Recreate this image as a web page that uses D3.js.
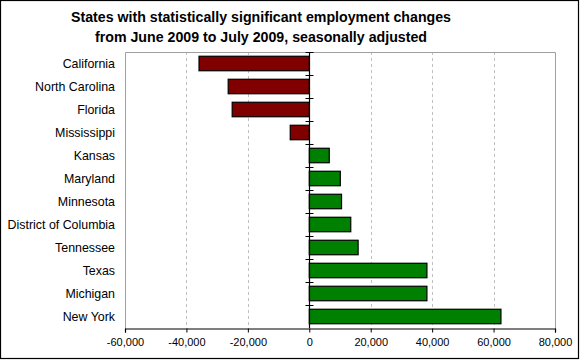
<!DOCTYPE html>
<html><head><meta charset="utf-8">
<script src="https://cdn.jsdelivr.net/npm/d3@7"></script>
<style>body{margin:0;background:#fff}svg{display:block}</style>
</head><body><svg id="c" width="580" height="360"></svg>
<script>
const titleLines = ["States with statistically significant employment changes", "from June 2009 to July 2009, seasonally adjusted"];
const states = ["California","North Carolina","Florida","Mississippi","Kansas","Maryland","Minnesota","District of Columbia","Tennessee","Texas","Michigan","New York"];
const changes = [-35900,-26400,-25100,-6200,6500,10100,10500,13500,15900,38300,38300,62400];
const xTicks = [-60000,-40000,-20000,0,20000,40000,60000,80000];

const svg = d3.select("#c");
const font = "'Liberation Sans', Arial, sans-serif";
const L = 125, R = 555, T = 52, B = 328;

svg.append("rect").attr("x",0.5).attr("y",0.5).attr("width",578).attr("height",358)
  .attr("fill","#fff").attr("stroke","#000").attr("stroke-width",1.2);

const x = d3.scaleLinear().domain([-60000,80000]).range([L,R]);
const y = d3.scaleBand().domain(states).range([T,B]).paddingInner(0.37).paddingOuter(0.185);

// gridlines
svg.append("g").selectAll("line").data(xTicks.filter(v=>v!==-60000 && v!==0 && v!==80000)).join("line")
  .attr("x1",d=>Math.round(x(d))+0.5).attr("x2",d=>Math.round(x(d))+0.5).attr("y1",T).attr("y2",B)
  .attr("stroke","#c0c0c0").attr("stroke-dasharray","3,3");

// plot border
svg.append("path").attr("d",`M${L+0.5},${B}V${T+0.5}H${R+0.5}V${B}`)
  .attr("fill","none").attr("stroke","#a0a0a0");

// bars
svg.append("g").selectAll("rect").data(states).join("rect")
  .attr("x",(d,i)=>x(Math.min(0,changes[i])))
  .attr("width",(d,i)=>Math.abs(x(changes[i])-x(0)))
  .attr("y",d=>y(d)).attr("height",y.bandwidth())
  .attr("fill",(d,i)=>changes[i]<0?"#800000":"#008000")
  .attr("stroke","#000").attr("stroke-width",1.2);

// x axis
const fmt = d3.format(",");
const xa = svg.append("g").attr("transform",`translate(0,${B+0.5})`)
  .call(d3.axisBottom(x).tickValues(xTicks).tickFormat(d=>fmt(d).replace("\u2212","-")).tickSize(4).tickPadding(6));
xa.select(".domain").attr("stroke","#000").attr("stroke-width",1.2);
xa.selectAll(".tick line").attr("stroke","#000");
xa.selectAll("text").attr("font-family",font).attr("font-size","11px").attr("fill","#000");

// y axis at zero with boundary ticks
const x0 = Math.round(x(0))+0.5;
svg.append("line").attr("x1",x0).attr("x2",x0).attr("y1",T).attr("y2",B).attr("stroke","#000").attr("stroke-width",1.2);
svg.append("g").selectAll("line").data(d3.range(states.length)).join("line")
  .attr("x1",x0-4).attr("x2",x0+4)
  .attr("y1",i=>Math.round(T+i*(B-T)/states.length)+0.5).attr("y2",i=>Math.round(T+i*(B-T)/states.length)+0.5)
  .attr("stroke","#000");

// category labels
svg.append("g").selectAll("text").data(states).join("text")
  .attr("x",115).attr("y",d=>y(d)+y.bandwidth()/2).attr("dy","0.35em")
  .attr("text-anchor","end").attr("font-family",font).attr("font-size","12.4px").attr("fill","#000")
  .text(d=>d);

// title
svg.append("g").selectAll("text").data(titleLines).join("text")
  .attr("x",261).attr("y",(d,i)=>21.5+i*20.3).attr("text-anchor","middle")
  .attr("font-family",font).attr("font-weight","bold").attr("font-size","14.2px").attr("fill","#000")
  .text(d=>d);
</script></body></html>
